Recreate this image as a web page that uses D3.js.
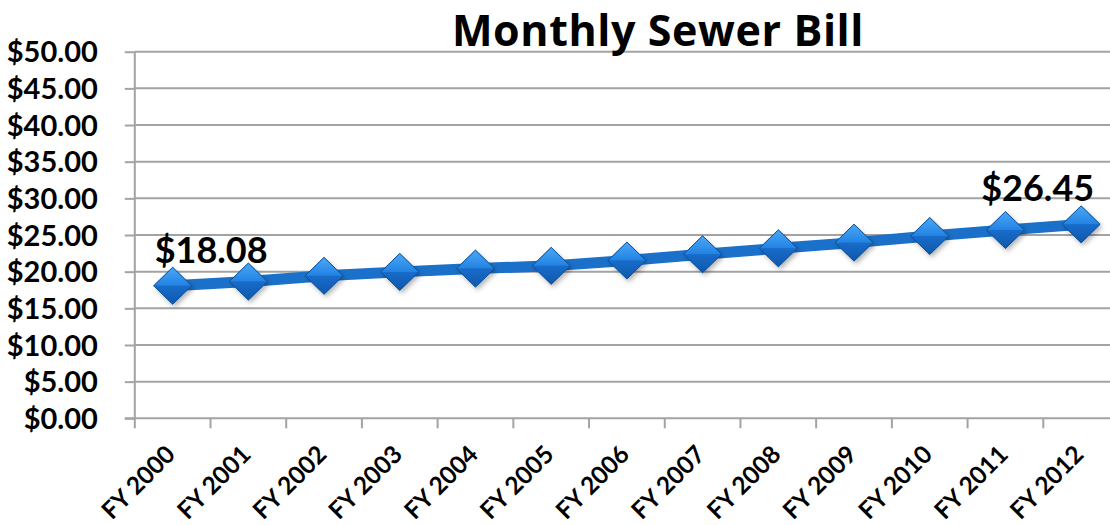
<!DOCTYPE html>
<html>
<head>
<meta charset="utf-8">
<script src="https://cdn.jsdelivr.net/npm/d3@7"></script>
<style>
  html, body { margin: 0; padding: 0; background: #fff; }
  svg { display: block; }
  text { font-family: Lato, "Open Sans", sans-serif; font-weight: bold; fill: #000; }
</style>
</head>
<body>
<svg id="chart" width="1110" height="525"></svg>
<script>
const categories = ["FY 2000","FY 2001","FY 2002","FY 2003","FY 2004","FY 2005","FY 2006",
                    "FY 2007","FY 2008","FY 2009","FY 2010","FY 2011","FY 2012"];
const billValues = [18.08, 18.65, 19.43, 19.97, 20.42, 20.79, 21.52,
                    22.38, 23.19, 23.96, 24.86, 25.68, 26.45];
const yTickValues = [0, 5, 10, 15, 20, 25, 30, 35, 40, 45, 50];
const labeledIndices = [0, 12];
const chartTitle = "Monthly Sewer Bill";

const svg = d3.select("#chart");
const W = 1110;
const plot = { left: 134.8, right: 1119, top: 51.7, bottom: 418.3 };

const x = d3.scaleBand().domain(categories).range([plot.left, plot.right]).padding(0);
const y = d3.scaleLinear().domain([0, 50]).range([plot.bottom, plot.top]);
const cx = d => x(d) + x.bandwidth() / 2;

// defs
const defs = svg.append("defs");
const gTop = defs.append("linearGradient").attr("id", "gTop").attr("x1", 0).attr("y1", 0).attr("x2", 0).attr("y2", 1);
gTop.append("stop").attr("offset", "0%").attr("stop-color", "#4aa8f7");
gTop.append("stop").attr("offset", "100%").attr("stop-color", "#2282e2");
const gBot = defs.append("linearGradient").attr("id", "gBot").attr("x1", 0).attr("y1", 0).attr("x2", 0).attr("y2", 1);
gBot.append("stop").attr("offset", "0%").attr("stop-color", "#196ccb");
gBot.append("stop").attr("offset", "100%").attr("stop-color", "#0e58aa");
const f = defs.append("filter").attr("id", "shadow").attr("x", "-50%").attr("y", "-50%").attr("width", "200%").attr("height", "200%");
f.append("feDropShadow").attr("dx", 2).attr("dy", 3).attr("stdDeviation", 2.5)
  .attr("flood-color", "#000").attr("flood-opacity", 0.3);

// gridlines
svg.append("g").selectAll("line").data(yTickValues.filter(v => v > 0)).join("line")
  .attr("x1", plot.left).attr("x2", W)
  .attr("y1", d => y(d)).attr("y2", d => y(d))
  .attr("stroke", "#a3a3a3").attr("stroke-width", 2);

// y axis
const yAxis = svg.append("g").attr("transform", `translate(${plot.left},0)`)
  .call(d3.axisLeft(y).tickValues(yTickValues).tickSize(10).tickPadding(27)
    .tickFormat(d => "$" + d3.format(".2f")(d)));
yAxis.select(".domain").attr("stroke", "#a3a3a3").attr("stroke-width", 2).attr("d", `M0,${plot.top}V${plot.bottom}`);
yAxis.selectAll(".tick line").attr("stroke", "#a3a3a3").attr("stroke-width", 2);
yAxis.selectAll(".tick text").style("font-size", "29px").attr("dy", "0.35em");

// x axis
const xAxis = svg.append("g").attr("transform", `translate(0,${plot.bottom})`)
  .call(d3.axisBottom(x).tickSize(0).tickFormat(d => d));
xAxis.select(".domain").attr("stroke", "#a3a3a3").attr("stroke-width", 2).attr("d", `M${plot.left - 10},0H${W}`);
xAxis.selectAll(".tick text").remove();
const boundaries = categories.map(c => x(c));
xAxis.append("g").selectAll("line").data(boundaries).join("line")
  .attr("x1", d => d).attr("x2", d => d).attr("y1", 0).attr("y2", 10)
  .attr("stroke", "#a3a3a3").attr("stroke-width", 2);
svg.append("g").selectAll("text").data(categories).join("text")
  .attr("text-anchor", "end")
  .attr("transform", d => `translate(${cx(d) + 4},${456}) rotate(-45)`)
  .style("font-size", "24.5px")
  .text(d => d);

// line
const line = d3.line().x((d, i) => cx(categories[i])).y(d => y(d));
svg.append("path").datum(billValues)
  .attr("d", line).attr("fill", "none")
  .attr("stroke", "#1b70c9").attr("stroke-width", 11).attr("stroke-linejoin", "round");

// markers
const hw = 19, hh = 18.5;
const mk = svg.append("g").selectAll("g").data(billValues).join("g")
  .attr("transform", (d, i) => `translate(${cx(categories[i])},${y(d)})`);
mk.append("path").attr("d", `M0,${-hh}L${hw},0L0,${hh}L${-hw},0Z`)
  .attr("fill", "#1b6fc8").attr("filter", "url(#shadow)");
mk.append("path").attr("d", `M0,${-hh}L${hw},0L${-hw},0Z`).attr("fill", "url(#gTop)");
mk.append("path").attr("d", `M${-hw},0L${hw},0L0,${hh}Z`).attr("fill", "url(#gBot)");
mk.append("path").attr("d", `M0,${-hh}L${hw},0L0,${hh}L${-hw},0Z`)
  .attr("fill", "none").attr("stroke", "#0d4f96").attr("stroke-width", 1);

// data labels: first starts just left of its point, last ends just right of its point
svg.append("g").selectAll("text").data(labeledIndices).join("text")
  .attr("x", i => i === 0 ? cx(categories[i]) - 18 : cx(categories[i]) + 13)
  .attr("y", i => y(billValues[i]) - 23)
  .attr("text-anchor", i => i === 0 ? "start" : "end")
  .style("font-size", "36px")
  .text(i => "$" + d3.format(".2f")(billValues[i]));

// title
svg.append("text").attr("x", 658).attr("y", 46).attr("text-anchor", "middle")
  .style("font-family", "'Open Sans', Lato, sans-serif")
  .style("letter-spacing", "0.6px")
  .style("font-size", "43px").text(chartTitle);
</script>
</body>
</html>
